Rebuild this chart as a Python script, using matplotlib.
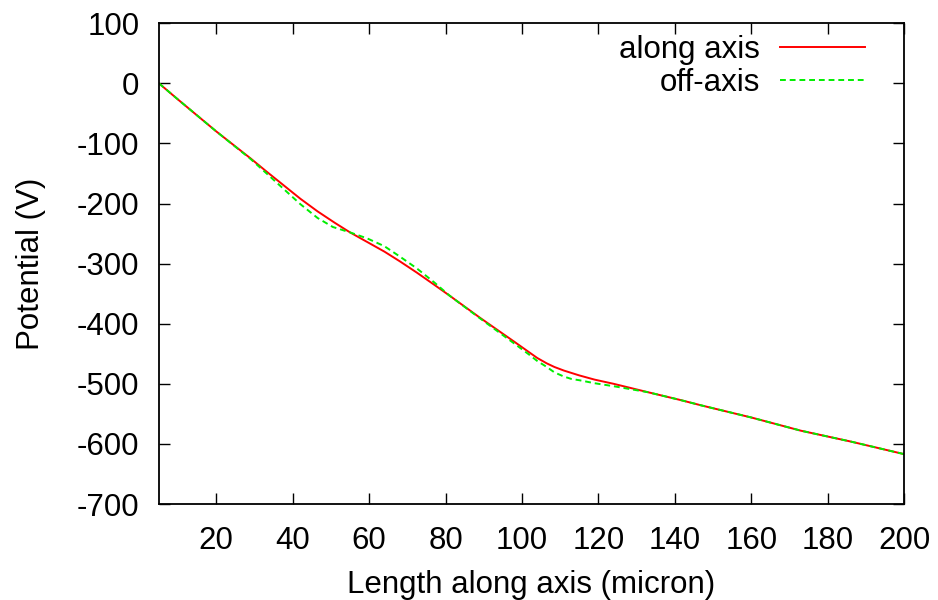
import matplotlib
matplotlib.use("Agg")
import matplotlib.pyplot as plt

plt.rcParams['font.family'] = ['Liberation Sans', 'DejaVu Sans']
plt.rcParams['axes.unicode_minus'] = False

# data (micron, volt)
x_along = [5, 10, 20, 29, 33, 37.5, 42, 46.5, 51, 55, 59.5, 64, 68, 72.5, 77,
           81, 89, 98, 102, 104, 106.5, 108.5, 111, 113, 115, 119, 124, 133,
           141.5, 147, 160, 173, 186, 200]
v_along = [0, -27, -80, -125, -146, -169, -192, -213, -232, -248, -264, -280,
           -296, -315, -335, -353, -390, -430, -448, -457, -466, -472, -478,
           -482, -486, -493, -500, -514, -527, -536, -556, -578, -596, -617]

x_off = [5, 10, 20, 29, 33, 37.5, 42, 46.5, 50.5, 55, 59.5, 64, 68, 72.5, 77,
         81, 89, 98, 102, 104, 106.5, 108.5, 111, 113, 115, 119, 124, 133,
         141.5, 147, 160, 173, 186, 200]
v_off = [0, -27, -80, -126, -149, -175, -201, -224, -239, -248, -258, -271,
         -288, -308, -331, -353, -391, -433, -452, -462, -472, -481, -488,
         -492, -494, -499, -504, -514, -527, -536, -556, -578, -596, -617]

xticks = [20, 40, 60, 80, 100, 120, 140, 160, 180, 200]
yticks = [100, 0, -100, -200, -300, -400, -500, -600, -700]

fig = plt.figure(figsize=(9.38, 6.0), dpi=100)
ax = fig.add_axes([0.1695, 0.16, 0.7943, 0.8012])

ax.plot(x_along, v_along, color='#ff0000', linewidth=1.4, label='along axis')
ax.plot(x_off, v_off, color='#00ee00', linewidth=1.4, linestyle=(0, (3, 2)),
        label='off-axis')

ax.set_xlim(5, 200)
ax.set_ylim(-700, 100)
ax.set_xticks(xticks)
ax.set_yticks(yticks)
ax.tick_params(direction='in', length=8, width=1, labelsize=22.5,
               top=True, right=True)
ax.tick_params(axis='x', pad=16)
ax.tick_params(axis='y', pad=14)
for s in ax.spines.values():
    s.set_linewidth(1.3)

ax.set_xlabel('Length along axis (micron)', fontsize=22.5, labelpad=10)
ax.set_ylabel('Potential (V)', fontsize=22.5, labelpad=22)

ax.legend(loc='upper right', bbox_to_anchor=(0.968, 1.008), frameon=False,
          markerfirst=False, fontsize=22.5, borderpad=0, handlelength=2.7,
          handletextpad=0.65, labelspacing=0.08)

fig.savefig('out.png', dpi=100)
